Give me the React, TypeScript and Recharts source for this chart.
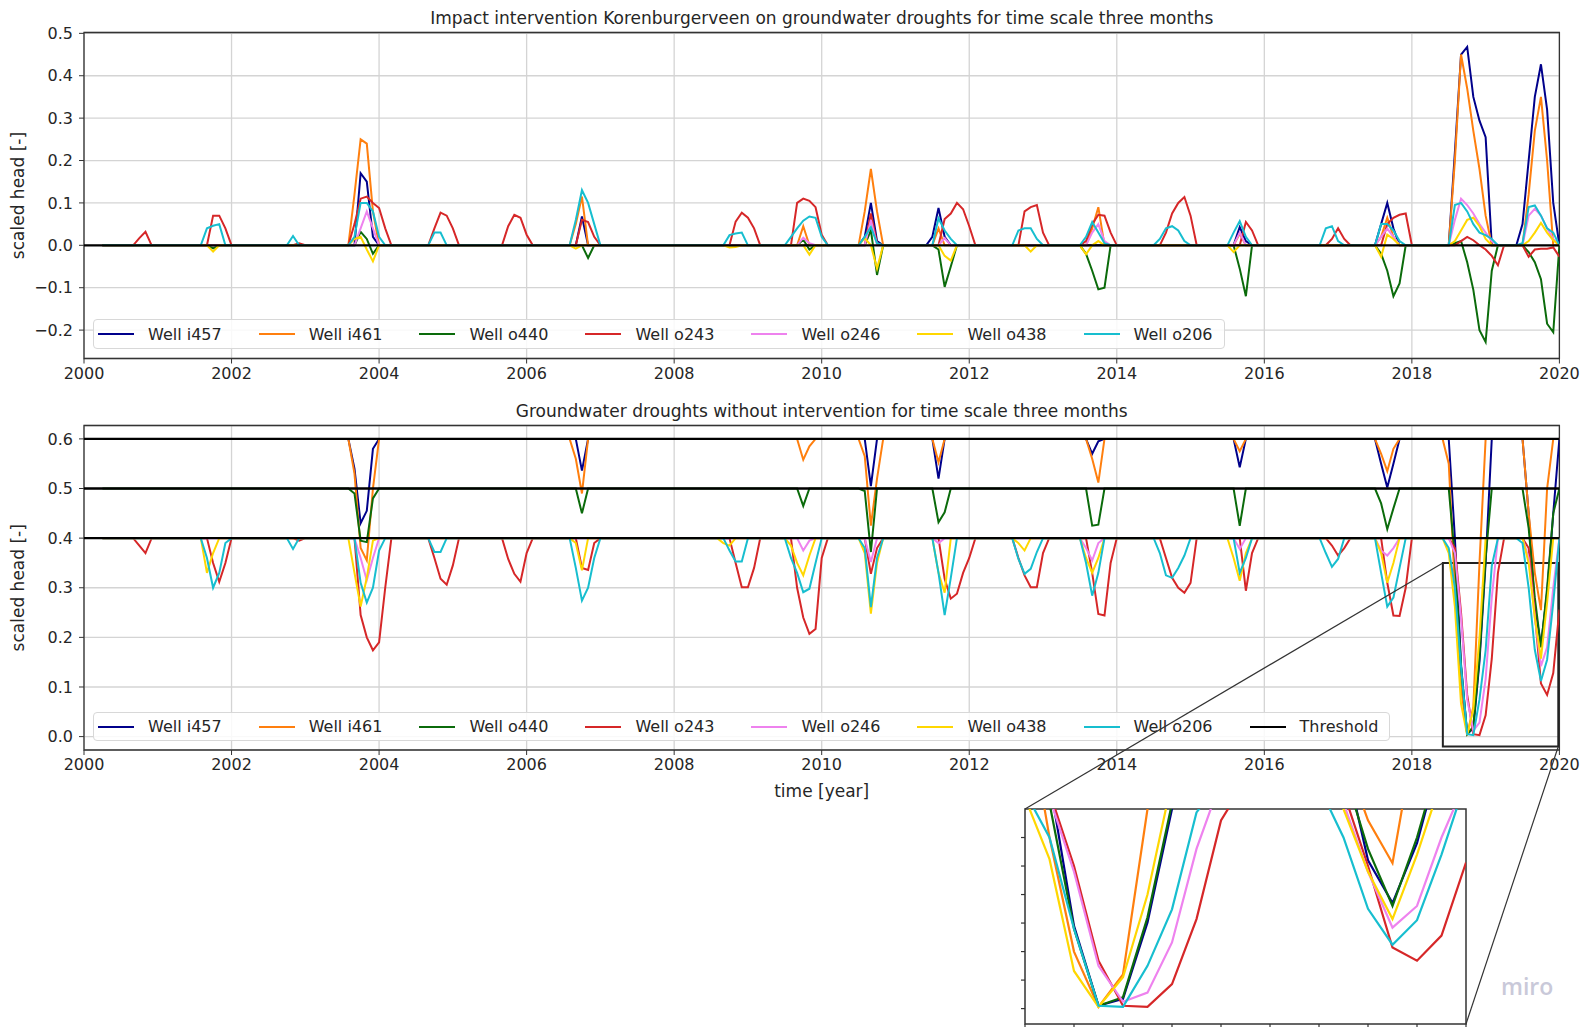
import React from "react";
import { LineChart, Line, XAxis, YAxis, CartesianGrid, ReferenceArea } from "recharts";

// monthly series, month index k -> year 2000 + k/12; wells start in Apr 2000 (k = 3)
const LAST_MONTH = 240;
const FIRST_MONTH = 3;
const monthT = (k: number) => 2000 + k / 12;

const wells = ["Well i457", "Well i461", "Well o440", "Well o243", "Well o246", "Well o438", "Well o206"];
const wellColors = ["#00008b", "#ff7f0e", "#0b6b0b", "#d62728", "#ee82ee", "#ffd700", "#17becf"];
const wellThreshold = [0.6, 0.6, 0.5, 0.4, 0.4, 0.4, 0.4];
const thresholds = [0.6, 0.5, 0.4];

const yearTicks = [2000, 2002, 2004, 2006, 2008, 2010, 2012, 2014, 2016, 2018, 2020];
const impactTicks = [-0.2, -0.1, 0, 0.1, 0.2, 0.3, 0.4, 0.5];
const droughtTicks = [0, 0.1, 0.2, 0.3, 0.4, 0.5, 0.6];
const insetMonthTicks = [222, 224, 226, 228, 230, 232, 234, 236, 238, 240];
const insetYTicks = [0, 0.05, 0.1, 0.15, 0.2, 0.25, 0.3];

const impactDomain: [number, number] = [-0.267, 0.502];
const droughtDomain: [number, number] = [-0.027, 0.627];
const insetDomainY: [number, number] = [-0.027, 0.35];
const insetMonths = [222, 240];
const zoomBox = { x1: 2018.42, x2: 2019.985, y1: -0.02, y2: 0.35 };

// events: [first month, value, value, ...] ; outside events the well sits on 0 (top) or its threshold (bottom)
const i457Impact = [
  [43, 0, 0, 0.17, 0.15, 0.02, 0],
  [80, 0, 0.068, 0],
  [126, 0, 0.02, 0.1, 0.01, 0],
  [137, 0, 0.02, 0.088, 0.02, 0],
  [187, 0, 0.043, 0.01, 0],
  [210, 0, 0.05, 0.1, 0.04, 0],
  [222, 0, 0.22, 0.45, 0.468, 0.35, 0.294, 0.255, 0],
  [233, 0, 0.05, 0.2, 0.35, 0.427, 0.32, 0.1, 0],
];
const i461Impact = [
  [43, 0, 0.12, 0.25, 0.24, 0.08, 0],
  [79, 0, 0.05, 0.115, 0],
  [116, 0, 0.045, 0],
  [126, 0, 0.08, 0.18, 0.08, 0],
  [138, 0, 0.04, 0],
  [163, 0, 0.04, 0.09, 0],
  [187, 0, 0.027, 0],
  [210, 0, 0.02, 0.065, 0.02, 0],
  [222, 0, 0.2, 0.45, 0.37, 0.27, 0.18, 0.07, 0],
  [234, 0, 0.12, 0.27, 0.35, 0.2, 0],
];
const o440Impact = [
  [20, 0, -0.007, 0],
  [44, 0, 0.032, 0.015, -0.02, 0],
  [81, 0, -0.03, 0],
  [116, 0, 0.013, -0.01, 0],
  [127, 0, 0.036, -0.07, 0],
  [138, 0, -0.01, -0.098, -0.05, 0],
  [162, 0, -0.02, -0.06, -0.104, -0.1, 0],
  [187, 0, -0.055, -0.12, 0],
  [210, 0, -0.02, -0.06, -0.12, -0.09, 0],
  [222, 0, 0.005, 0.01, -0.04, -0.105, -0.2, -0.228, -0.06, 0],
  [234, 0, -0.016, -0.04, -0.08, -0.185, -0.205, 0],
];
const o243Impact = [
  [8, 0, 0.017, 0.032, 0],
  [20, 0, 0.07, 0.07, 0.04, 0],
  [34, 0, 0.005, 0],
  [43, 0, 0.05, 0.11, 0.115, 0.1, 0.088, 0.04, 0],
  [56, 0, 0.04, 0.077, 0.07, 0.04, 0],
  [68, 0, 0.045, 0.072, 0.065, 0.025, 0],
  [80, 0, 0.06, 0.055, 0.02, 0],
  [105, 0, 0.056, 0.077, 0.065, 0.04, 0],
  [115, 0, 0.1, 0.11, 0.105, 0.09, 0.025, 0],
  [127, 0, 0.075, 0.005, 0],
  [139, 0, 0.062, 0.075, 0.1, 0.085, 0.045, 0],
  [152, 0, 0.08, 0.09, 0.095, 0.03, 0],
  [162, 0, 0.01, 0.05, 0.072, 0.07, 0.03, 0],
  [175, 0, 0.03, 0.075, 0.1, 0.114, 0.07, 0],
  [188, 0, 0.055, 0.035, 0],
  [202, 0, 0.015, 0.04, 0.015, 0],
  [211, 0, 0.05, 0.065, 0.072, 0.075, 0],
  [222, 0, 0, 0.01, 0.02, 0.012, 0, -0.01, -0.025, -0.047, 0],
  [234, 0, -0.027, -0.01, -0.008, -0.008, -0.005, -0.027],
];
const o246Impact = [
  [44, 0, 0.04, 0.08, 0.04, 0],
  [116, 0, 0.018, 0.005, 0],
  [127, 0, 0.06, 0],
  [139, 0, 0.017, 0],
  [163, 0, 0.03, 0.05, 0.01, 0],
  [187, 0, 0.03, 0],
  [210, 0, 0.02, 0.04, 0.02, 0],
  [222, 0, 0.06, 0.11, 0.095, 0.075, 0.05, 0.03, 0.01, 0],
  [234, 0, 0.07, 0.086, 0.07, 0.04, 0.015, 0],
];
const o438Impact = [
  [20, 0, -0.015, 0],
  [43, 0, 0.015, 0.02, -0.01, -0.038, 0],
  [79, 0, -0.008, 0],
  [104, 0, -0.005, -0.004, 0],
  [116, 0, 0, -0.022, 0],
  [126, 0, 0.017, 0, -0.055, 0],
  [139, 0, -0.025, -0.036, 0],
  [153, 0, -0.015, 0],
  [162, 0, -0.021, 0, 0.01, 0],
  [186, 0, -0.016, 0],
  [210, 0, -0.027, 0.025, 0.015, 0],
  [222, 0, 0.01, 0.035, 0.06, 0.065, 0.045, 0.015, 0],
  [234, 0, 0.01, 0.03, 0.053, 0.03, 0.012, 0],
];
const o206Impact = [
  [19, 0, 0.04, 0.046, 0.05, 0],
  [33, 0, 0.022, 0],
  [43, 0, 0.02, 0.1, 0.1, 0.08, 0.02, 0],
  [56, 0, 0.03, 0.03, 0],
  [79, 0, 0.06, 0.13, 0.1, 0.05, 0],
  [104, 0, 0.024, 0.028, 0.03, 0],
  [114, 0, 0.02, 0.04, 0.058, 0.068, 0.065, 0.02, 0],
  [126, 0, 0.02, 0.043, 0.005, 0],
  [138, 0, 0.064, 0.035, 0.015, 0],
  [151, 0, 0.035, 0.04, 0.04, 0.015, 0],
  [162, 0, 0.02, 0.055, 0.03, 0.005, 0],
  [174, 0, 0.015, 0.04, 0.045, 0.035, 0.01, 0],
  [186, 0, 0.03, 0.057, 0.02, 0],
  [201, 0, 0.04, 0.045, 0.01, 0],
  [210, 0, 0.05, 0.05, 0.035, 0.01, 0],
  [222, 0, 0.095, 0.1, 0.08, 0.05, 0.03, 0.024, 0.015, 0],
  [233, 0, 0.005, 0.09, 0.094, 0.07, 0.04, 0.03, 0],
];

const i457Drought = [
  [43, 0.6, 0.54, 0.43, 0.455, 0.58, 0.6],
  [80, 0.6, 0.536, 0.6],
  [127, 0.6, 0.505, 0.6],
  [138, 0.6, 0.52, 0.6],
  [163, 0.6, 0.57, 0.595, 0.6],
  [187, 0.6, 0.543, 0.6],
  [210, 0.6, 0.55, 0.502, 0.55, 0.6],
  [222, 0.6, 0.4, 0.145, 0.005, 0.017, 0.151, 0.35, 0.6],
  [234, 0.6, 0.45, 0.26, 0.185, 0.29, 0.45, 0.6],
];
const i461Drought = [
  [43, 0.6, 0.53, 0.38, 0.355, 0.5, 0.6],
  [79, 0.6, 0.56, 0.49, 0.6],
  [116, 0.6, 0.558, 0.585, 0.6],
  [126, 0.6, 0.565, 0.425, 0.52, 0.6],
  [138, 0.6, 0.553, 0.6],
  [163, 0.6, 0.56, 0.512, 0.6],
  [187, 0.6, 0.575, 0.6],
  [210, 0.6, 0.57, 0.535, 0.58, 0.6],
  [221, 0.6, 0.55, 0.3, 0.1, 0.003, 0.06, 0.35, 0.6],
  [234, 0.6, 0.45, 0.33, 0.255, 0.5, 0.6],
];
const o440Drought = [
  [43, 0.5, 0.49, 0.395, 0.392, 0.48, 0.5],
  [80, 0.5, 0.45, 0.5],
  [116, 0.5, 0.465, 0.5],
  [126, 0.5, 0.495, 0.372, 0.5],
  [138, 0.5, 0.432, 0.452, 0.5],
  [163, 0.5, 0.425, 0.427, 0.5],
  [187, 0.5, 0.425, 0.5],
  [210, 0.5, 0.47, 0.418, 0.46, 0.5],
  [222, 0.5, 0.36, 0.14, 0.005, 0.02, 0.16, 0.36, 0.5],
  [234, 0.5, 0.42, 0.28, 0.18, 0.3, 0.45, 0.5],
];
const o243Drought = [
  [8, 0.4, 0.385, 0.37, 0.4],
  [20, 0.4, 0.35, 0.312, 0.35, 0.4],
  [34, 0.4, 0.395, 0.4],
  [44, 0.4, 0.245, 0.2, 0.174, 0.19, 0.3, 0.4],
  [56, 0.4, 0.36, 0.318, 0.306, 0.345, 0.4],
  [68, 0.4, 0.358, 0.328, 0.312, 0.37, 0.4],
  [80, 0.4, 0.34, 0.336, 0.39, 0.4],
  [105, 0.4, 0.35, 0.301, 0.301, 0.34, 0.4],
  [115, 0.4, 0.3, 0.24, 0.207, 0.217, 0.36, 0.4],
  [127, 0.4, 0.328, 0.38, 0.4],
  [139, 0.4, 0.318, 0.278, 0.288, 0.33, 0.36, 0.4],
  [151, 0.4, 0.36, 0.325, 0.301, 0.301, 0.37, 0.4],
  [163, 0.4, 0.33, 0.247, 0.244, 0.35, 0.4],
  [175, 0.4, 0.36, 0.32, 0.3, 0.29, 0.31, 0.4],
  [188, 0.4, 0.294, 0.37, 0.4],
  [202, 0.4, 0.385, 0.365, 0.38, 0.4],
  [211, 0.4, 0.31, 0.244, 0.243, 0.3, 0.4],
  [222, 0.4, 0.38, 0.25, 0.084, 0.005, 0.003, 0.043, 0.157, 0.33, 0.4],
  [234, 0.4, 0.38, 0.25, 0.107, 0.084, 0.128, 0.256],
];
const o246Drought = [
  [44, 0.4, 0.36, 0.315, 0.36, 0.4],
  [116, 0.4, 0.375, 0.395, 0.4],
  [127, 0.4, 0.352, 0.4],
  [138, 0.4, 0.39, 0.4],
  [162, 0.4, 0.38, 0.355, 0.39, 0.4],
  [187, 0.4, 0.378, 0.4],
  [210, 0.4, 0.375, 0.365, 0.38, 0.4],
  [222, 0.4, 0.37, 0.24, 0.075, 0.012, 0.028, 0.116, 0.28, 0.4],
  [234, 0.4, 0.36, 0.24, 0.142, 0.18, 0.3, 0.4],
];
const o438Drought = [
  [19, 0.4, 0.33, 0.37, 0.4],
  [43, 0.4, 0.33, 0.262, 0.32, 0.395, 0.4],
  [79, 0.4, 0.39, 0.335, 0.4],
  [103, 0.4, 0.39, 0.385, 0.4],
  [114, 0.4, 0.385, 0.35, 0.325, 0.365, 0.4],
  [126, 0.4, 0.37, 0.248, 0.35, 0.4],
  [138, 0.4, 0.33, 0.29, 0.4],
  [151, 0.4, 0.39, 0.375, 0.4],
  [162, 0.4, 0.36, 0.33, 0.36, 0.4],
  [186, 0.4, 0.36, 0.314, 0.37, 0.4],
  [210, 0.4, 0.37, 0.31, 0.35, 0.4],
  [221, 0.4, 0.37, 0.262, 0.066, 0.003, 0.055, 0.2, 0.4],
  [234, 0.4, 0.35, 0.24, 0.157, 0.27, 0.4],
];
const o206Drought = [
  [19, 0.4, 0.36, 0.3, 0.33, 0.39, 0.4],
  [33, 0.4, 0.378, 0.4],
  [44, 0.4, 0.31, 0.27, 0.3, 0.375, 0.4],
  [56, 0.4, 0.372, 0.372, 0.4],
  [79, 0.4, 0.34, 0.274, 0.3, 0.36, 0.4],
  [104, 0.4, 0.375, 0.353, 0.353, 0.4],
  [114, 0.4, 0.36, 0.33, 0.291, 0.298, 0.35, 0.4],
  [126, 0.4, 0.38, 0.261, 0.36, 0.4],
  [138, 0.4, 0.33, 0.245, 0.32, 0.4],
  [151, 0.4, 0.358, 0.328, 0.338, 0.372, 0.4],
  [162, 0.4, 0.35, 0.284, 0.33, 0.4],
  [174, 0.4, 0.37, 0.325, 0.32, 0.34, 0.365, 0.4],
  [187, 0.4, 0.33, 0.36, 0.4],
  [201, 0.4, 0.37, 0.342, 0.358, 0.4],
  [210, 0.4, 0.33, 0.262, 0.28, 0.34, 0.4],
  [221, 0.4, 0.38, 0.3, 0.14, 0.005, 0.003, 0.075, 0.174, 0.344, 0.4],
  [233, 0.4, 0.39, 0.3, 0.175, 0.112, 0.155, 0.27, 0.4],
];

const impactEvents = [i457Impact, i461Impact, o440Impact, o243Impact, o246Impact, o438Impact, o206Impact];
const droughtEvents = [i457Drought, i461Drought, o440Drought, o243Drought, o246Drought, o438Drought, o206Drought];

type Row = Record<string, number | null>;

function buildRows(events: number[][][], base: number[], extra: Record<string, number>) {
  const rows: Row[] = [];
  for (let k = 0; k <= LAST_MONTH; k++) {
    const row: Row = { t: monthT(k), ...extra };
    base.forEach((b, i) => (row["w" + i] = k >= FIRST_MONTH ? b : null));
    rows.push(row);
  }
  events.forEach((evs, i) =>
    evs.forEach(([start, ...vals]) => vals.forEach((v, j) => (rows[start + j]["w" + i] = v)))
  );
  return rows;
}

const impactRows = buildRows(impactEvents, wells.map(() => 0), { zero: 0 });
const thresholdCols: Record<string, number> = {};
thresholds.forEach((v, i) => (thresholdCols["th" + i] = v));
const droughtRows = buildRows(droughtEvents, wellThreshold, thresholdCols);

// layout
const W = 1584;
const H = 1027;
const PLOT_L = 84;
const PLOT_R = 1559.4;
const TOP_T = 32.5;
const TOP_B = 358.5;
const BOT_Y0 = 400;
const BOT_T = 425.5;
const BOT_B = 750;
const INSET = { left: 1025, top: 809, right: 1466, bottom: 1024 };
const FONT = "DejaVu Sans";
const TEXT = "#262626";
const GRID = "#d4d4d4";
const FRAME = "#333";

const fmt = (v: number) => v.toFixed(1).replace("-", "\u2212");
const tickStyle = { fontSize: 16, fill: TEXT, fontFamily: FONT };
const noLabel = () => <g />;

const bx = (t: number) => PLOT_L + ((t - 2000) / 20) * (PLOT_R - PLOT_L);
const by = (v: number) =>
  BOT_T + ((droughtDomain[1] - v) / (droughtDomain[1] - droughtDomain[0])) * (BOT_B - BOT_T);

function wellLines(width: number) {
  return wells.map((name, i) => (
    <Line
      key={name}
      type="linear"
      dataKey={"w" + i}
      name={name}
      stroke={wellColors[i]}
      strokeWidth={width}
      dot={false}
      activeDot={false}
      isAnimationActive={false}
    />
  ));
}

function WellLegend({ left, top, height, withThreshold }: { left: number; top: number; height: number; withThreshold?: boolean }) {
  const items = wells.map((name, i) => ({ name, color: wellColors[i] }));
  if (withThreshold) items.push({ name: "Threshold", color: "#000" });
  return (
    <div
      style={{
        position: "absolute",
        left,
        top,
        height,
        display: "flex",
        alignItems: "center",
        padding: "0 11px 0 4px",
        background: "rgba(255,255,255,0.85)",
        border: "1px solid #d8d8d8",
        borderRadius: 4,
        boxSizing: "border-box",
        fontFamily: FONT,
        fontSize: 16,
        color: TEXT,
        whiteSpace: "nowrap",
      }}
    >
      {items.map((it, i) => (
        <div key={it.name} style={{ display: "flex", alignItems: "center", marginLeft: i ? 37 : 0 }}>
          <div style={{ width: 36, height: 0, borderTop: `2.5px solid ${it.color}`, marginRight: 14 }} />
          <span>{it.name}</span>
        </div>
      ))}
    </div>
  );
}

export default function App() {
  const insetTicks = insetMonthTicks.map(monthT);
  return (
    <div style={{ position: "absolute", left: 0, top: 0, width: W, height: H, background: "#fff", overflow: "hidden" }}>
      <div style={{ position: "absolute", left: 0, top: 0 }}>
        <LineChart width={W} height={395} data={impactRows} margin={{ top: TOP_T, right: W - PLOT_R, bottom: 395 - TOP_B - 30, left: 0 }}>
          <CartesianGrid stroke={GRID} strokeWidth={1.3} />
          <XAxis
            dataKey="t"
            type="number"
            domain={[2000, 2020]}
            ticks={yearTicks}
            interval={0}
            allowDataOverflow
            height={30}
            axisLine={false}
            tickSize={5}
            tickMargin={4}
            tickLine={{ stroke: FRAME }}
            tick={tickStyle}
          />
          <YAxis
            type="number"
            domain={impactDomain}
            ticks={impactTicks}
            interval={0}
            allowDataOverflow
            width={PLOT_L}
            axisLine={false}
            tickSize={5}
            tickMargin={6}
            tickLine={{ stroke: FRAME }}
            tick={tickStyle}
            tickFormatter={fmt}
          />
          {wellLines(2)}
          <Line dataKey="zero" stroke="#000" strokeWidth={2.3} dot={false} activeDot={false} isAnimationActive={false} />
          <ReferenceArea x1={2000} x2={2020} y1={impactDomain[0]} y2={impactDomain[1]} fill="none" stroke={FRAME} strokeWidth={1.3} />
        </LineChart>
      </div>

      <div style={{ position: "absolute", left: 0, top: BOT_Y0 }}>
        <LineChart width={W} height={410} data={droughtRows} margin={{ top: BOT_T - BOT_Y0, right: W - PLOT_R, bottom: 410 - (BOT_B - BOT_Y0) - 30, left: 0 }}>
          <CartesianGrid stroke={GRID} strokeWidth={1.3} />
          <XAxis
            dataKey="t"
            type="number"
            domain={[2000, 2020]}
            ticks={yearTicks}
            interval={0}
            allowDataOverflow
            height={30}
            axisLine={false}
            tickSize={5}
            tickMargin={4}
            tickLine={{ stroke: FRAME }}
            tick={tickStyle}
          />
          <YAxis
            type="number"
            domain={droughtDomain}
            ticks={droughtTicks}
            interval={0}
            allowDataOverflow
            width={PLOT_L}
            axisLine={false}
            tickSize={5}
            tickMargin={6}
            tickLine={{ stroke: FRAME }}
            tick={tickStyle}
            tickFormatter={fmt}
          />
          {wellLines(2)}
          {thresholds.map((v, i) => (
            <Line key={v} dataKey={"th" + i} stroke="#000" strokeWidth={2.3} dot={false} activeDot={false} isAnimationActive={false} />
          ))}
          <ReferenceArea x1={2000} x2={2020} y1={droughtDomain[0]} y2={droughtDomain[1]} fill="none" stroke={FRAME} strokeWidth={1.3} />
          <ReferenceArea x1={zoomBox.x1} x2={zoomBox.x2} y1={zoomBox.y1} y2={zoomBox.y2} fill="none" stroke="#222" strokeWidth={2} />
        </LineChart>
      </div>

      <div style={{ position: "absolute", left: INSET.left - 30, top: INSET.top - 19 }}>
        <LineChart
          width={W - INSET.left + 30}
          height={H - INSET.top + 19}
          data={droughtRows}
          margin={{ top: 19, right: W - INSET.right, bottom: 0, left: 0 }}
        >
          <XAxis
            dataKey="t"
            type="number"
            domain={[monthT(insetMonths[0]), monthT(insetMonths[1])]}
            ticks={insetTicks}
            interval={0}
            allowDataOverflow
            height={H - INSET.bottom}
            axisLine={false}
            tickSize={4}
            tickLine={{ stroke: FRAME, strokeWidth: 1.2 }}
            tick={noLabel}
          />
          <YAxis
            type="number"
            domain={insetDomainY}
            ticks={insetYTicks}
            interval={0}
            allowDataOverflow
            width={30}
            axisLine={false}
            tickSize={4}
            tickLine={{ stroke: FRAME, strokeWidth: 1.2 }}
            tick={noLabel}
          />
          {wellLines(2.2)}
          <ReferenceArea
            x1={monthT(insetMonths[0])}
            x2={monthT(insetMonths[1])}
            y1={insetDomainY[0]}
            y2={insetDomainY[1]}
            fill="none"
            stroke={FRAME}
            strokeWidth={1.5}
          />
        </LineChart>
      </div>

      <WellLegend left={93} top={319} height={30} />
      <WellLegend left={93} top={712} height={29} withThreshold />

      <svg width={W} height={H} style={{ position: "absolute", left: 0, top: 0, pointerEvents: "none" }}>
        <g fontFamily={FONT} fill={TEXT} fontSize={17} textAnchor="middle">
          <text x={(PLOT_L + PLOT_R) / 2} y={24}>
            Impact intervention Korenburgerveen on groundwater droughts for time scale three months
          </text>
          <text x={(PLOT_L + PLOT_R) / 2} y={417}>
            Groundwater droughts without intervention for time scale three months
          </text>
          <text x={(PLOT_L + PLOT_R) / 2} y={797}>
            time [year]
          </text>
          <text transform={`translate(24, ${(TOP_T + TOP_B) / 2}) rotate(-90)`}>scaled head [-]</text>
          <text transform={`translate(24, ${(BOT_T + BOT_B) / 2}) rotate(-90)`}>scaled head [-]</text>
        </g>
        <g stroke="#333" strokeWidth={1.2}>
          <line x1={bx(zoomBox.x1)} y1={by(zoomBox.y2)} x2={INSET.left} y2={INSET.top} />
          <line x1={bx(zoomBox.x2)} y1={by(zoomBox.y1)} x2={INSET.right} y2={INSET.bottom} />
        </g>
        <text x={1501} y={995} fontFamily="Open Sans" fontWeight={600} fontSize={23} fill="#c9c9d9">
          miro
        </text>
      </svg>
    </div>
  );
}
